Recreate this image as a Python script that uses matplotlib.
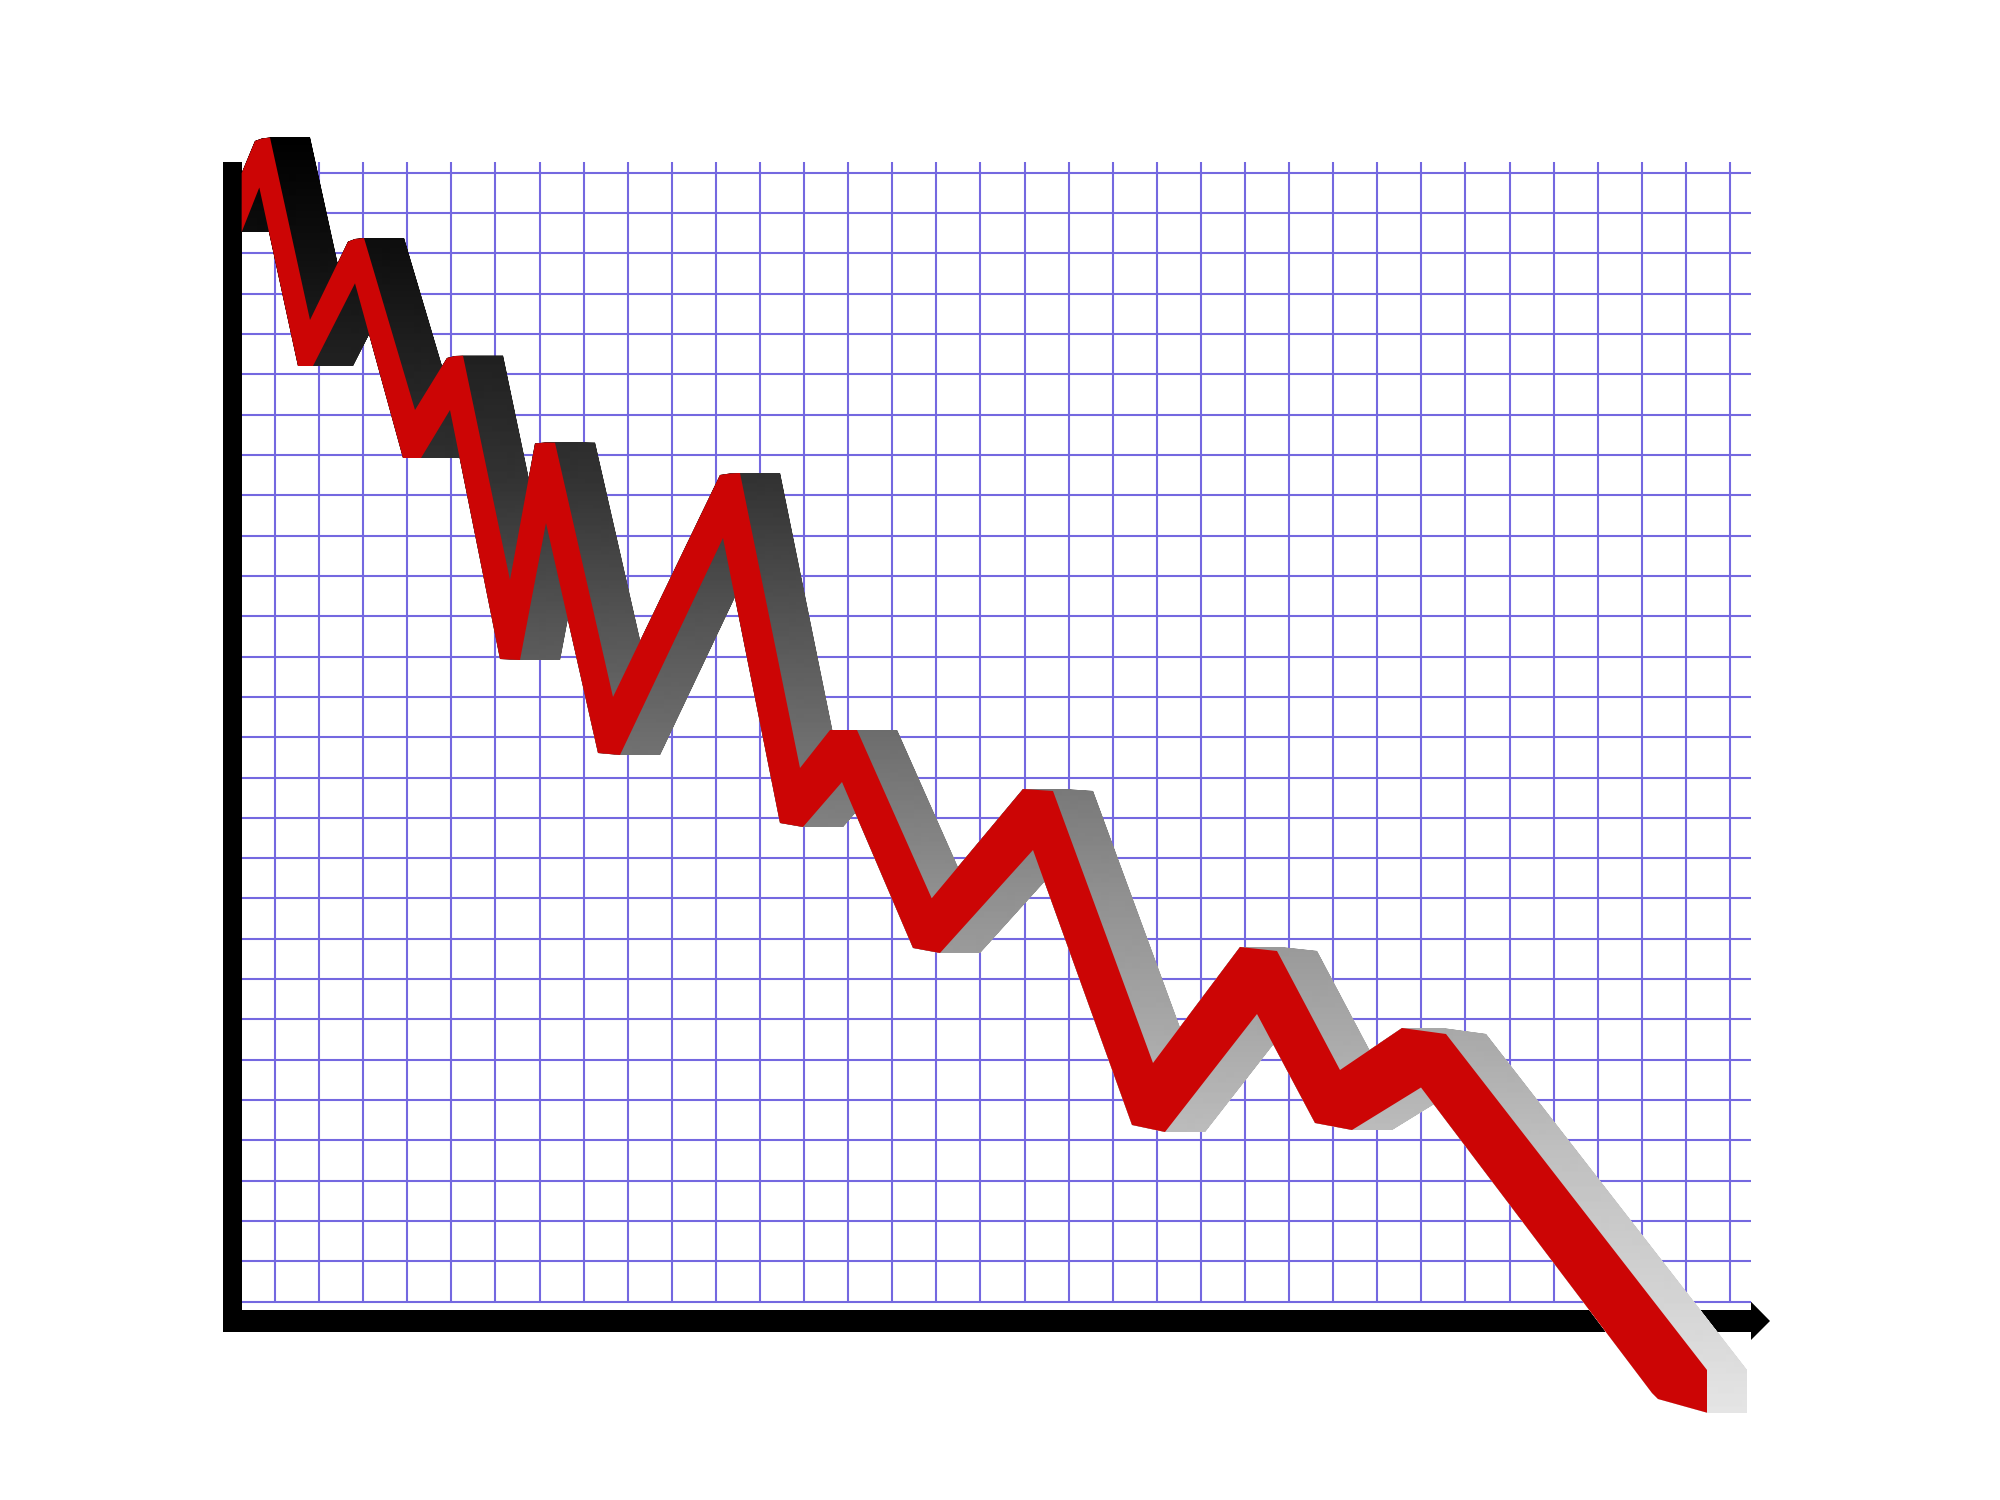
import numpy as np
import matplotlib
matplotlib.use('Agg')
import matplotlib.pyplot as plt
from matplotlib.path import Path
from matplotlib.patches import Polygon, PathPatch, Rectangle

# outline of the red ribbon, in pixels of the 2000x1500 picture
# top edge, left to right
top_x = [241.7, 255, 262, 270, 310, 348, 355, 364, 415, 447, 455, 463,
         510, 535, 545, 555, 613, 720, 730, 740, 800, 830, 857, 931.7,
         1023, 1053, 1153, 1240, 1277, 1340, 1402, 1446, 1707, 1707]
top_y = [173, 141, 138.5, 137.5, 320, 241.7, 239, 238, 410, 358, 356, 355.7,
         580, 443.5, 442.5, 442.7, 697, 475, 473.5, 473, 768, 730, 730, 898.3,
         789, 791, 1063, 947, 951, 1070, 1028, 1034, 1370, 1412.7]
# bottom edge, right to left
bot_x = [1658, 1652, 1421, 1352, 1315, 1257, 1165, 1132, 1033, 940, 913,
         842, 803, 780, 723, 620, 598, 546, 520, 500, 450, 421, 403, 355,
         313, 298, 259.3, 241.7]
bot_y = [1399, 1393, 1087.5, 1130, 1123, 1014, 1132, 1125, 850, 953, 948,
         782, 827, 823, 538, 755, 753, 523, 660, 659, 410, 458, 458, 283.3,
         366, 366, 187.5, 232]

depth = 40  # the ribbon is pushed back to the right by this much

grid_x = np.linspace(275, 1730, 34)
grid_y = np.linspace(172.7, 1301.7, 29)

# side faces: black at the top, light grey at the bottom
shade_y = [137, 250, 360, 480, 620, 760, 900, 1030, 1150, 1300, 1415]
shade_v = [0.0, 0.06, 0.13, 0.2, 0.33, 0.45, 0.57, 0.66, 0.75, 0.83, 0.9]

fig = plt.figure(figsize=(20, 15), dpi=100)
ax = fig.add_axes([0, 0, 1, 1])

ax.vlines(grid_x, 162, 1301.7, color='#7468e0', lw=1.5, zorder=1)
ax.hlines(grid_y, 242, 1750.7, color='#7468e0', lw=1.5, zorder=1)

# axis bars and arrow
ax.add_patch(Rectangle((223, 162), 19, 1170, color='black', lw=0, zorder=2))
ax.add_patch(Rectangle((223, 1310), 1529, 22, color='black', lw=0, zorder=2))
ax.add_patch(Polygon([(1751, 1301.7), (1770, 1321), (1751, 1340)],
                     closed=True, color='black', lw=0, zorder=2))

pts = np.column_stack([top_x + bot_x, top_y + bot_y])
shift = np.array([depth, 0])


def ccw(p):
    x, y = p[:, 0], p[:, 1]
    a = 0.5 * np.sum(x * np.roll(y, -1) - np.roll(x, -1) * y)
    return (p if a > 0 else p[::-1]), abs(a)


# swept volume = ribbon + ribbon moved back + one quad per edge
pieces = [pts, pts + shift]
for a, b in zip(pts, np.roll(pts, -1, axis=0)):
    pieces.append(np.array([a, b, b + shift, a + shift]))

verts, codes = [], []
for p in pieces:
    p, area = ccw(p)
    if area < 1e-6:
        continue
    verts += list(p) + [p[0]]
    codes += [Path.MOVETO] + [Path.LINETO] * (len(p) - 1) + [Path.CLOSEPOLY]

sweep = PathPatch(Path(verts, codes), facecolor='none', edgecolor='none')
ax.add_patch(sweep)

rows = np.arange(1500)
grad = np.interp(rows, shade_y, shade_v)[:, None]
im = ax.imshow(grad, cmap='gray', vmin=0, vmax=1, extent=[0, 2000, 1500, 0],
               aspect='auto', zorder=3, interpolation='bilinear')
im.set_clip_path(sweep)

ax.add_patch(Polygon(pts, closed=True, facecolor='#cc0505', edgecolor='none', zorder=4))

ax.set_xlim(0, 2000)
ax.set_ylim(1500, 0)
ax.axis('off')

fig.savefig('out.png', dpi=100)
